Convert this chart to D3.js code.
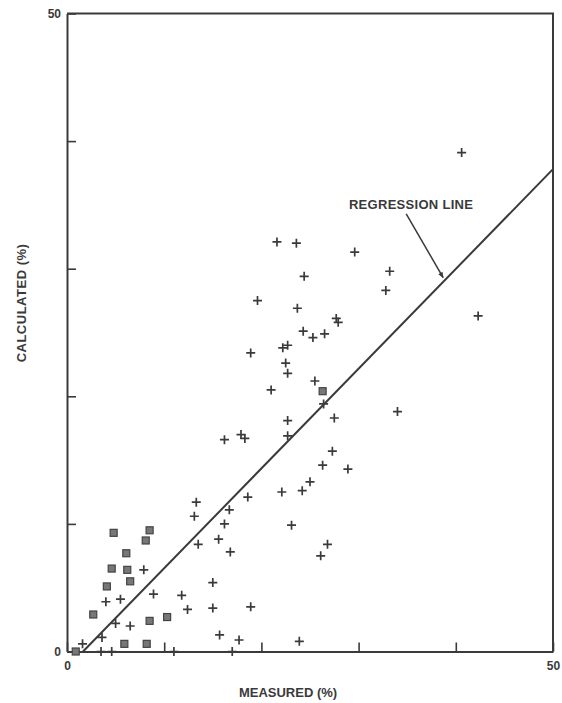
<!DOCTYPE html>
<html>
<head>
<meta charset="utf-8">
<script src="https://d3js.org/d3.v7.min.js"></script>
<style>
    html, body { margin: 0; padding: 0; background: #fff; }
    svg text { font-family: "Liberation Sans", Arial, sans-serif; font-weight: bold; fill: #3a3a3a; }
</style>
</head>
<body>
<div id="chart"></div>
<script>
// measured (%) / calculated (%) pairs
const crossPoints = [
    [13.3, 11.7], [18.6, 12.1], [16.7, 11.1], [13.1, 10.6], [16.2, 10.0], [15.6, 8.8],
    [13.5, 8.4], [16.8, 7.8], [7.9, 6.4], [15.0, 5.4], [8.9, 4.5], [11.8, 4.4],
    [4.0, 3.9], [5.5, 4.1], [12.4, 3.3], [15.0, 3.4], [18.9, 3.5], [5.0, 2.2],
    [6.5, 2.0], [15.7, 1.3], [17.7, 0.9], [3.6, 1.1], [1.6, 0.6], [3.5, 0.0],
    [4.6, 0.0], [11.0, 0.0], [17.0, 0.0], [23.9, 0.8],
    [21.0, 20.5], [26.4, 19.4], [27.5, 18.3], [34.0, 18.8], [22.7, 18.1], [22.7, 16.9],
    [16.2, 16.6], [17.9, 17.0], [18.3, 16.7], [27.3, 15.7], [26.3, 14.6], [28.9, 14.3],
    [25.0, 13.3], [24.2, 12.6], [22.1, 12.5], [23.1, 9.9], [26.8, 8.4], [26.1, 7.5],
    [21.6, 32.1], [23.6, 32.0], [29.6, 31.3], [33.2, 29.8], [24.4, 29.4], [32.8, 28.3],
    [19.6, 27.5], [23.7, 26.9], [27.7, 26.1], [27.9, 25.8], [24.3, 25.1], [25.3, 24.6],
    [26.5, 24.9], [18.9, 23.4], [22.2, 23.8], [22.7, 24.0], [22.5, 22.6], [22.7, 21.8],
    [25.5, 21.2], [40.6, 39.1], [42.3, 26.3]
];

const squarePoints = [
    [4.8, 9.3], [8.5, 9.5], [8.1, 8.7], [6.1, 7.7], [4.6, 6.5], [6.2, 6.4],
    [6.5, 5.5], [4.1, 5.1], [2.7, 2.9], [10.3, 2.7], [8.5, 2.4], [5.9, 0.6],
    [8.2, 0.6], [0.9, 0.0], [26.3, 20.4]
];

const regressionLine = [[1.65, 0], [50, 37.8]];

const tickValues = [0, 10, 20, 30, 40, 50];
const tickLabels = ["0", "", "", "", "", "50"];

const axisTitles = { x: "MEASURED (%)", y: "CALCULATED (%)" };
const noteText = "REGRESSION LINE";
const noteAnchor = [35.4, 35.1];   // label centre
const noteArrow = [[34.9, 34.3], [38.7, 29.3]];

//////////////
/// Layout ///
//////////////

const width = 562, height = 703;
const box = {left: 67, right: 553, top: 13.5, bottom: 651.5};
const ink = "#3a3a3a";

const svg = d3.select("#chart").append("svg")
    .attr("width", width)
    .attr("height", height);

const x = d3.scaleLinear().domain([0, 50]).range([box.left, box.right]);
const y = d3.scaleLinear().domain([0, 50]).range([box.bottom, box.top]);

svg.append("defs").append("marker")
    .attr("id", "head")
    .attr("viewBox", "0 0 10 10")
    .attr("refX", 9).attr("refY", 5)
    .attr("markerWidth", 11).attr("markerHeight", 6)
    .attr("markerUnits", "userSpaceOnUse")
    .attr("orient", "auto")
    .append("path")
    .attr("d", "M0,1 L10,5 L0,9 Z")
    .attr("fill", ink);

////////////
/// Axes ///
////////////

const fmt = d => tickLabels[tickValues.indexOf(d)];

const xAxis = svg.append("g")
    .attr("transform", "translate(0," + box.bottom + ")")
    .call(d3.axisBottom(x).tickValues(tickValues).tickFormat(fmt)
        .tickSizeInner(-9).tickSizeOuter(0).tickPadding(10));

const yAxis = svg.append("g")
    .attr("transform", "translate(" + box.left + ",0)")
    .call(d3.axisLeft(y).tickValues(tickValues).tickFormat(fmt)
        .tickSizeInner(-9).tickSizeOuter(0).tickPadding(6));

[xAxis, yAxis].forEach(function (g) {
    g.select(".domain").attr("stroke", ink).attr("stroke-width", 2);
    g.selectAll(".tick line").attr("stroke", ink).attr("stroke-width", 1.6);
    g.selectAll(".tick text").attr("fill", ink).style("font-size", "12px");
});

// frame top and right
svg.append("path")
    .attr("d", "M" + box.left + "," + box.top + "H" + box.right + "V" + box.bottom)
    .attr("fill", "none")
    .attr("stroke", ink)
    .attr("stroke-width", 2);

svg.append("text")
    .attr("x", 288)
    .attr("y", 697)
    .attr("text-anchor", "middle")
    .style("font-size", "13px")
    .text(axisTitles.x);

svg.append("text")
    .attr("transform", "translate(26,303) rotate(-90)")
    .attr("text-anchor", "middle")
    .style("font-size", "13px")
    .style("letter-spacing", "0.5px")
    .text(axisTitles.y);

//////////////
/// Shapes ///
//////////////

svg.append("path")
    .datum(regressionLine)
    .attr("d", d3.line().x(d => x(d[0])).y(d => y(d[1])))
    .attr("fill", "none")
    .attr("stroke", ink)
    .attr("stroke-width", 2);

svg.append("g").selectAll("rect")
    .data(squarePoints)
    .enter()
    .append("rect")
    .attr("x", d => x(d[0]) - 3.5)
    .attr("y", d => y(d[1]) - 3.5)
    .attr("width", 7)
    .attr("height", 7)
    .attr("fill", "#777")
    .attr("stroke", "#444")
    .attr("stroke-width", 1.2);

svg.append("g").selectAll("path")
    .data(crossPoints)
    .enter()
    .append("path")
    .attr("d", function (d) {
        let cx = x(d[0]), cy = y(d[1]);
        return "M" + (cx - 4.5) + "," + cy + "H" + (cx + 4.5) +
               "M" + cx + "," + (cy - 4.5) + "V" + (cy + 4.5);
    })
    .attr("stroke", ink)
    .attr("stroke-width", 1.7)
    .attr("fill", "none");

//////////////////
/// Annotation ///
//////////////////

svg.append("text")
    .attr("x", x(noteAnchor[0]))
    .attr("y", y(noteAnchor[1]) + 5)
    .attr("text-anchor", "middle")
    .style("font-size", "13px")
    .style("letter-spacing", "0.3px")
    .text(noteText);

svg.append("line")
    .attr("x1", x(noteArrow[0][0])).attr("y1", y(noteArrow[0][1]))
    .attr("x2", x(noteArrow[1][0])).attr("y2", y(noteArrow[1][1]))
    .attr("stroke", ink)
    .attr("stroke-width", 1.5)
    .attr("marker-end", "url(#head)");
</script>
</body>
</html>
